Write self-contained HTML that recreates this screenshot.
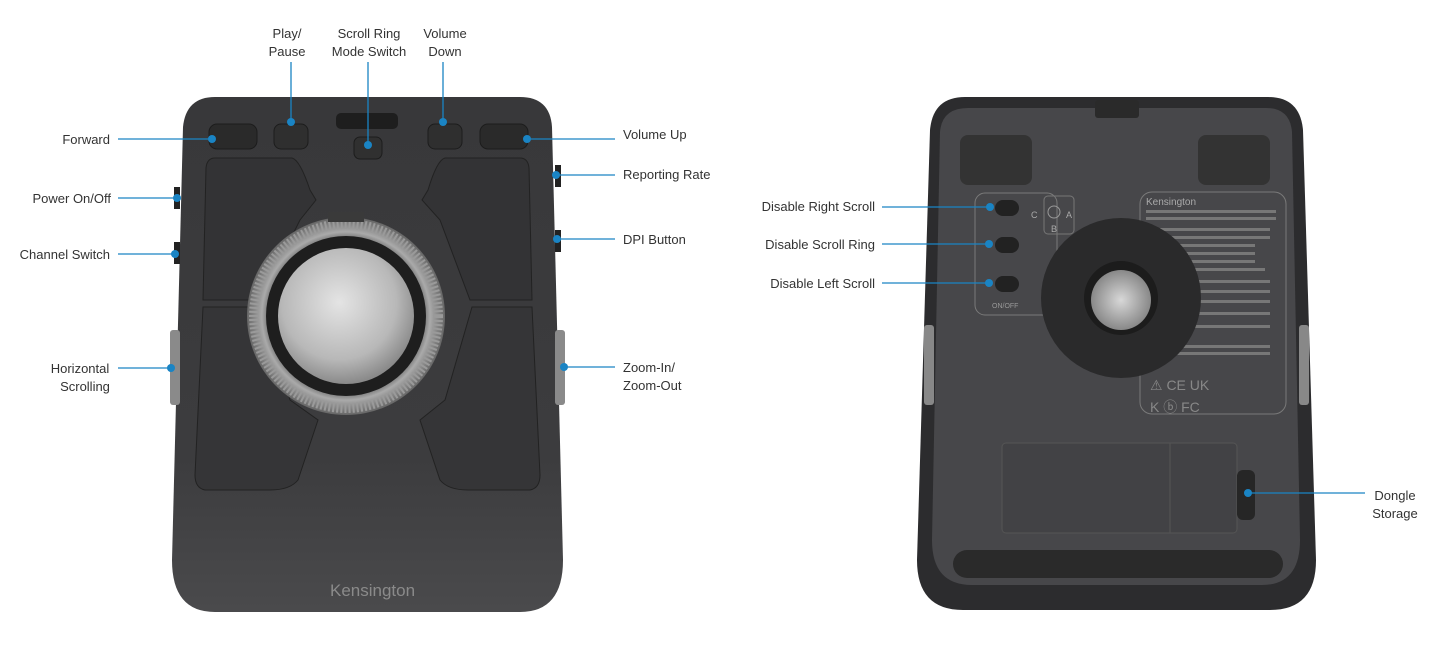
<!DOCTYPE html>
<html><head><meta charset="utf-8"><style>
html,body{margin:0;padding:0;background:#fff;}
svg{display:block}
text{font-family:"Liberation Sans",sans-serif;font-size:13px;fill:#333;}
</style></head><body>
<svg width="1436" height="650" viewBox="0 0 1436 650" xmlns="http://www.w3.org/2000/svg">
<defs>
<radialGradient id="ball" cx="0.45" cy="0.4" r="0.6"><stop offset="0" stop-color="#e4e4e4"/><stop offset="0.7" stop-color="#b8b8b8"/><stop offset="1" stop-color="#8a8a8a"/></radialGradient>
<radialGradient id="ring" cx="0.5" cy="0.5" r="0.5"><stop offset="0.75" stop-color="#555"/><stop offset="0.85" stop-color="#aaa"/><stop offset="1" stop-color="#666"/></radialGradient>
<linearGradient id="body" x1="0" y1="0" x2="0" y2="1"><stop offset="0" stop-color="#38383a"/><stop offset="0.7" stop-color="#3c3c3e"/><stop offset="1" stop-color="#4a4a4c"/></linearGradient>
<radialGradient id="rball" cx="0.5" cy="0.5" r="0.5"><stop offset="0" stop-color="#d8d8d8"/><stop offset="1" stop-color="#888"/></radialGradient>
</defs>

<!-- LEFT DEVICE -->
<path d="M215 97 H520 Q550 97 552 127 L563 560 Q563 612 520 612 H215 Q172 612 172 560 L183 127 Q186 97 215 97 Z" fill="url(#body)"/>
<!-- side buttons -->
<rect x="174" y="187" width="6" height="22" fill="#222"/>
<rect x="174" y="242" width="6" height="22" fill="#222"/>
<rect x="555" y="165" width="6" height="22" fill="#222"/>
<rect x="555" y="230" width="6" height="22" fill="#222"/>
<rect x="170" y="330" width="10" height="75" rx="3" fill="#8a8a8a"/>
<rect x="555" y="330" width="10" height="75" rx="3" fill="#8a8a8a"/>
<!-- top buttons -->
<rect x="209" y="124" width="48" height="25" rx="8" fill="#2a2a2a" stroke="#1c1c1c"/>
<rect x="274" y="124" width="34" height="25" rx="7" fill="#2f2f2f" stroke="#1c1c1c"/>
<rect x="336" y="113" width="62" height="16" rx="5" fill="#1e1e1e"/>
<rect x="354" y="137" width="28" height="22" rx="6" fill="#303030" stroke="#1c1c1c"/>
<rect x="428" y="124" width="34" height="25" rx="7" fill="#2f2f2f" stroke="#1c1c1c"/>
<rect x="480" y="124" width="48" height="25" rx="8" fill="#2a2a2a" stroke="#1c1c1c"/>
<!-- side panels -->
<path d="M215 158 H292 Q300 160 310 190 L316 200 L300 220 L260 300 H203 L206 168 Q207 158 215 158Z" fill="#333335" stroke="#222" stroke-width="1"/>
<path d="M520 158 H445 Q437 160 428 190 L422 200 L440 220 L470 300 H532 L529 168 Q528 158 520 158Z" fill="#333335" stroke="#222" stroke-width="1"/>
<path d="M203 307 H262 L290 400 L318 420 L298 480 Q290 490 270 490 H205 Q195 488 195 475Z" fill="#353537" stroke="#222"/>
<path d="M532 307 H472 L445 400 L420 420 L440 480 Q448 490 468 490 H530 Q540 488 540 475Z" fill="#353537" stroke="#222"/>
<!-- ring and ball -->
<circle cx="346" cy="316" r="99" fill="url(#ring)"/>
<circle cx="346" cy="316" r="92" fill="none" stroke="#9a9a9a" stroke-width="10" stroke-dasharray="2 2"/>
<circle cx="346" cy="316" r="80" fill="#1e1e1e"/>
<circle cx="346" cy="316" r="68" fill="url(#ball)"/>
<rect x="328" y="212" width="36" height="10" fill="#3a3a3a"/>
<text x="330" y="596" style="font-size:17px;fill:#8a8a8a">Kensington</text>

<!-- RIGHT DEVICE -->
<path d="M965 97 H1268 Q1300 97 1303 130 L1316 560 Q1316 610 1270 610 H963 Q917 610 917 560 L930 130 Q933 97 965 97Z" fill="#2c2c2e"/>
<path d="M968 108 H1266 Q1290 108 1292 132 L1300 540 Q1300 585 1262 585 H972 Q932 585 932 540 L940 132 Q942 108 968 108Z" fill="#47474a"/>
<rect x="1095" y="100" width="44" height="18" rx="3" fill="#2a2a2a"/>
<rect x="960" y="135" width="72" height="50" rx="8" fill="#333"/>
<rect x="1198" y="135" width="72" height="50" rx="8" fill="#333"/>
<rect x="924" y="325" width="10" height="80" rx="3" fill="#888"/>
<rect x="1299" y="325" width="10" height="80" rx="3" fill="#888"/>
<rect x="975" y="193" width="82" height="122" rx="10" fill="none" stroke="#7a7a7a"/>
<rect x="995" y="200" width="24" height="16" rx="8" fill="#222"/>
<rect x="995" y="237" width="24" height="16" rx="8" fill="#222"/>
<rect x="995" y="276" width="24" height="16" rx="8" fill="#222"/>
<text x="992" y="308" style="font-size:7px;fill:#999">ON/OFF</text>
<rect x="1044" y="196" width="30" height="38" rx="4" fill="none" stroke="#777"/>
<circle cx="1054" cy="212" r="6" fill="none" stroke="#999"/>
<text x="1031" y="218" style="font-size:9px;fill:#aaa">C</text>
<text x="1066" y="218" style="font-size:9px;fill:#aaa">A</text>
<text x="1051" y="232" style="font-size:9px;fill:#aaa">B</text>
<rect x="1140" y="192" width="146" height="222" rx="12" fill="none" stroke="#7a7a7a"/>
<text x="1146" y="205" style="font-size:10px;fill:#aaa">Kensington</text>
<g fill="#777"><rect x="1146" y="210" width="130" height="3"/><rect x="1146" y="217" width="130" height="3"/><rect x="1160" y="228" width="110" height="3"/><rect x="1160" y="236" width="110" height="3"/><rect x="1165" y="244" width="90" height="3"/><rect x="1165" y="252" width="90" height="3"/><rect x="1165" y="260" width="90" height="3"/><rect x="1170" y="268" width="95" height="3"/><rect x="1170" y="280" width="100" height="3"/><rect x="1170" y="290" width="100" height="3"/><rect x="1170" y="300" width="100" height="3"/><rect x="1170" y="312" width="100" height="3"/><rect x="1170" y="325" width="100" height="3"/><rect x="1160" y="345" width="110" height="3"/><rect x="1160" y="352" width="110" height="3"/></g>
<text x="1150" y="390" style="font-size:14px;fill:#888">⚠ CE UK</text>
<text x="1150" y="412" style="font-size:14px;fill:#888">K ⓑ FC</text>
<circle cx="1121" cy="298" r="80" fill="#2a2a2b"/>
<circle cx="1121" cy="298" r="37" fill="#1c1c1c"/>
<circle cx="1121" cy="300" r="30" fill="url(#rball)"/>
<rect x="1002" y="443" width="235" height="90" rx="4" fill="#424245" stroke="#555"/>
<line x1="1170" y1="443" x2="1170" y2="533" stroke="#555"/>
<rect x="1237" y="470" width="18" height="50" rx="6" fill="#262626"/>
<rect x="953" y="550" width="330" height="28" rx="14" fill="#2a2a2a"/>

<!-- CONNECTORS -->
<g stroke="#1a84c4" stroke-width="1.3" fill="none">
<line x1="118" y1="139" x2="212" y2="139"/>
<line x1="118" y1="198" x2="177" y2="198"/>
<line x1="118" y1="254" x2="175" y2="254"/>
<line x1="118" y1="368" x2="171" y2="368"/>
<line x1="291" y1="62" x2="291" y2="122"/>
<line x1="368" y1="62" x2="368" y2="145"/>
<line x1="443" y1="62" x2="443" y2="122"/>
<line x1="527" y1="139" x2="615" y2="139"/>
<line x1="556" y1="175" x2="615" y2="175"/>
<line x1="557" y1="239" x2="615" y2="239"/>
<line x1="564" y1="367" x2="615" y2="367"/>
<line x1="882" y1="207" x2="990" y2="207"/>
<line x1="882" y1="244" x2="989" y2="244"/>
<line x1="882" y1="283" x2="989" y2="283"/>
<line x1="1248" y1="493" x2="1365" y2="493"/>
</g>
<g fill="#1a84c4">
<circle cx="212" cy="139" r="4"/><circle cx="177" cy="198" r="4"/><circle cx="175" cy="254" r="4"/><circle cx="171" cy="368" r="4"/>
<circle cx="291" cy="122" r="4"/><circle cx="368" cy="145" r="4"/><circle cx="443" cy="122" r="4"/>
<circle cx="527" cy="139" r="4"/><circle cx="556" cy="175" r="4"/><circle cx="557" cy="239" r="4"/><circle cx="564" cy="367" r="4"/>
<circle cx="990" cy="207" r="4"/><circle cx="989" cy="244" r="4"/><circle cx="989" cy="283" r="4"/><circle cx="1248" cy="493" r="4"/>
</g>

<!-- LABELS -->
<text x="110" y="144" text-anchor="end">Forward</text>
<text x="111" y="203" text-anchor="end">Power On/Off</text>
<text x="110" y="259" text-anchor="end">Channel Switch</text>
<text x="80" y="373" text-anchor="middle">Horizontal</text>
<text x="85" y="391" text-anchor="middle">Scrolling</text>
<text x="287" y="38" text-anchor="middle">Play/</text>
<text x="287" y="56" text-anchor="middle">Pause</text>
<text x="369" y="38" text-anchor="middle">Scroll Ring</text>
<text x="369" y="56" text-anchor="middle">Mode Switch</text>
<text x="445" y="38" text-anchor="middle">Volume</text>
<text x="445" y="56" text-anchor="middle">Down</text>
<text x="623" y="139">Volume Up</text>
<text x="623" y="179">Reporting Rate</text>
<text x="623" y="244">DPI Button</text>
<text x="623" y="372">Zoom-In/</text>
<text x="623" y="390">Zoom-Out</text>
<text x="875" y="211" text-anchor="end">Disable Right Scroll</text>
<text x="875" y="249" text-anchor="end">Disable Scroll Ring</text>
<text x="875" y="288" text-anchor="end">Disable Left Scroll</text>
<text x="1395" y="500" text-anchor="middle">Dongle</text>
<text x="1395" y="518" text-anchor="middle">Storage</text>
</svg>
</body></html>
